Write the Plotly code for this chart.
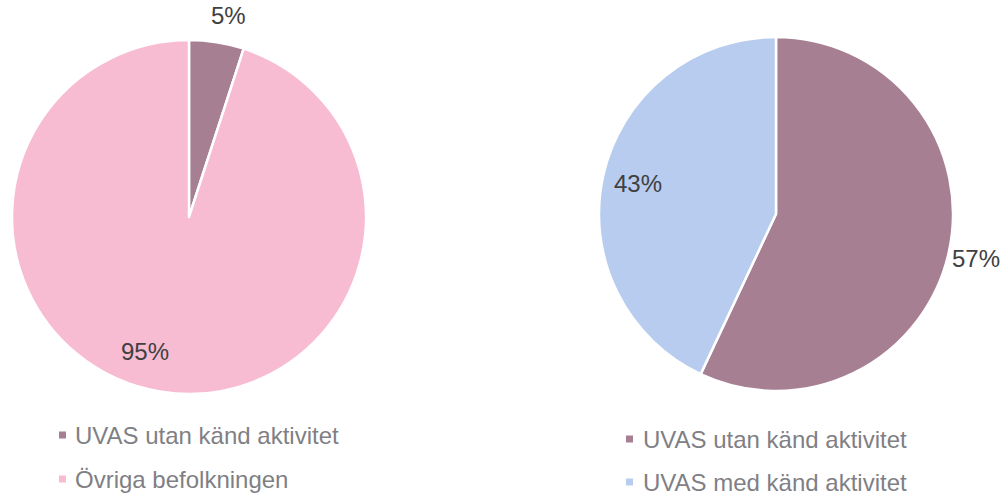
import math
import plotly.graph_objects as go

# Data
left_labels = ["UVAS utan känd aktivitet", "Övriga befolkningen"]
left_values = [5, 95]
left_colors = ["#A67F93", "#F7BCD2"]
left_textpos = ["outside", "inside"]

right_labels = ["UVAS utan känd aktivitet", "UVAS med känd aktivitet"]
right_values = [57, 43]
right_colors = ["#A67F93", "#B7CCEE"]
right_textpos = ["outside", "inside"]

W, H = 1008, 495
FONT = "Liberation Sans, Arial, sans-serif"


def px(x):
    return x / W


def py(y_top):
    return 1 - y_top / H


fig = go.Figure()

annotations = []
shapes = []


def add_pie(labels, values, colors, textpos, cx, cy, r, shift):
    fig.add_trace(go.Pie(
        labels=labels, values=values,
        marker=dict(colors=colors, line=dict(color="white", width=2.5)),
        textposition="none",
        sort=False, direction="clockwise", rotation=0,
        domain=dict(x=[px(cx - r), px(cx + r)], y=[py(cy + r), py(cy - r)]),
        showlegend=False, hoverinfo="label+percent",
    ))
    # percentage labels placed along each slice bisector
    total = sum(values)
    start = 0.0
    for v, pos, sh in zip(values, textpos, shift):
        frac = v / total
        mid = (start + frac / 2) * 2 * math.pi + math.radians(sh)
        start += frac
        rr = r * 0.8 if pos == "inside" else r + 28
        x = cx + rr * math.sin(mid)
        y = cy - rr * math.cos(mid)
        annotations.append(dict(
            xref="paper", yref="paper", x=px(x), y=py(y),
            xanchor="center", yanchor="middle", showarrow=False,
            text=f"{round(frac * 100)}%",
            font=dict(family=FONT, size=24, color="#404040"),
        ))


add_pie(left_labels, left_values, left_colors, left_textpos, 189, 217, 177, [2, 9])
add_pie(right_labels, right_values, right_colors, right_textpos, 776, 214, 177, [0, 0])

legend_font = dict(family=FONT, size=24, color="#7F7F85")


def add_legend(labels, colors, x_marker, y_first, gap, text_off):
    for i, (lab, col) in enumerate(zip(labels, colors)):
        yc = y_first + i * gap
        shapes.append(dict(
            type="rect", xref="paper", yref="paper",
            x0=px(x_marker), x1=px(x_marker + 7),
            y0=py(yc + 3.5), y1=py(yc - 3.5),
            fillcolor=col, line=dict(width=0),
        ))
        annotations.append(dict(
            xref="paper", yref="paper", x=px(x_marker + text_off), y=py(yc),
            xanchor="left", yanchor="middle", text=lab, showarrow=False,
            font=legend_font,
        ))


add_legend(left_labels, left_colors, 59, 435, 44, 14)
add_legend(right_labels, right_colors, 626, 439, 43, 15)

fig.update_layout(
    width=W, height=H,
    margin=dict(l=0, r=0, t=0, b=0),
    paper_bgcolor="white",
    plot_bgcolor="white",
    shapes=shapes,
    annotations=annotations,
)

fig.write_html(
    "out.html",
    config={"displayModeBar": False},
    post_script="document.body.style.margin='0';document.body.style.padding='0';",
)
